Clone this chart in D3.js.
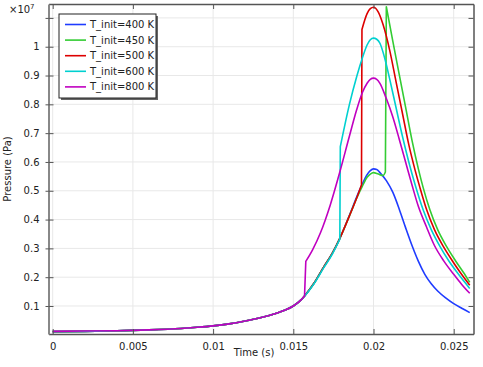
<!DOCTYPE html>
<html><head><meta charset="utf-8">
<script src="https://cdn.jsdelivr.net/npm/d3@7"></script>
<style>
body{margin:0;background:#fff;}
text{font-family:"DejaVu Sans",sans-serif;fill:#222;}
</style></head>
<body><svg id="c" width="483" height="367"></svg>
<script>
// ---- data (pressure in units of 1e7 Pa) ----
const seriesLabels = ["T_init=400 K","T_init=450 K","T_init=500 K","T_init=600 K","T_init=800 K"];
const seriesColors = ["#1f3cff","#33cc33","#dd0000","#00d0d0","#c000c0"];

const t400 = [0,0.002,0.004,0.006,0.008,0.009,0.010,0.011,0.012,0.013,0.014,0.0145,0.015,0.0155,0.0157,0.0163,0.0169,0.0174,0.0179,0.0185,0.019,0.0193,0.0196,0.0198,0.020,0.0202,0.0204,0.0208,0.0212,0.0216,0.022,0.0224,0.0228,0.0232,0.0236,0.024,0.0245,0.025,0.0255,0.026];
const p400 = [0.011,0.012,0.014,0.017,0.022,0.026,0.031,0.038,0.048,0.060,0.076,0.086,0.100,0.122,0.135,0.180,0.236,0.280,0.335,0.415,0.485,0.523,0.556,0.570,0.576,0.574,0.563,0.535,0.495,0.437,0.372,0.310,0.255,0.210,0.177,0.152,0.128,0.108,0.092,0.077];

const t450 = [0,0.002,0.004,0.006,0.008,0.009,0.010,0.011,0.012,0.013,0.014,0.0145,0.015,0.0155,0.0157,0.0163,0.0169,0.0174,0.0179,0.0185,0.019,0.0193,0.0196,0.0198,0.020,0.0203,0.0206,0.02074,0.0208,0.0212,0.0216,0.022,0.0224,0.0228,0.0231,0.02352,0.024,0.02456,0.0251,0.0256,0.026];
const p450 = [0.011,0.012,0.014,0.017,0.022,0.026,0.031,0.038,0.048,0.060,0.076,0.086,0.100,0.122,0.135,0.180,0.236,0.280,0.335,0.413,0.480,0.515,0.547,0.558,0.563,0.558,0.553,0.565,1.139,1.020,0.905,0.790,0.675,0.575,0.510,0.433,0.365,0.306,0.258,0.217,0.182];

const t500 = [0,0.002,0.004,0.006,0.008,0.009,0.010,0.011,0.012,0.013,0.014,0.0145,0.015,0.0155,0.0157,0.0163,0.0169,0.0174,0.0179,0.0185,0.019,0.01925,0.01928,0.0196,0.0198,0.020,0.0203,0.0206,0.021,0.0214,0.0218,0.0222,0.0226,0.0229,0.02332,0.0238,0.02436,0.0249,0.0254,0.026];
const p500 = [0.011,0.012,0.014,0.017,0.022,0.026,0.031,0.038,0.048,0.060,0.076,0.086,0.100,0.122,0.135,0.180,0.236,0.280,0.335,0.413,0.482,0.520,1.060,1.115,1.132,1.137,1.120,1.076,0.990,0.880,0.770,0.660,0.570,0.510,0.433,0.365,0.306,0.258,0.217,0.172];

const t600 = [0,0.002,0.004,0.006,0.008,0.009,0.010,0.011,0.012,0.013,0.014,0.0145,0.015,0.0155,0.0157,0.0163,0.0169,0.0174,0.0179,0.01793,0.0185,0.01895,0.0193,0.0196,0.0198,0.020,0.0202,0.0204,0.0207,0.021,0.0214,0.0218,0.0222,0.0226,0.0231,0.0236,0.02415,0.0247,0.0253,0.026];
const p600 = [0.011,0.012,0.014,0.017,0.022,0.026,0.031,0.038,0.048,0.060,0.076,0.086,0.100,0.122,0.134,0.178,0.233,0.277,0.332,0.653,0.800,0.896,0.960,1.006,1.024,1.030,1.026,1.012,0.960,0.890,0.790,0.690,0.600,0.520,0.433,0.365,0.306,0.256,0.210,0.161];

const t800 = [0,0.002,0.004,0.006,0.008,0.009,0.010,0.011,0.012,0.013,0.014,0.0145,0.015,0.0155,0.0157,0.01578,0.0162,0.0167,0.0173,0.0179,0.0185,0.01895,0.0193,0.0196,0.0198,0.020,0.0202,0.0204,0.0208,0.0212,0.0216,0.022,0.0224,0.0228,0.0233,0.0238,0.0244,0.025,0.0255,0.026];
const p800 = [0.012,0.013,0.014,0.017,0.022,0.026,0.031,0.038,0.048,0.060,0.076,0.086,0.100,0.122,0.135,0.255,0.295,0.355,0.450,0.565,0.690,0.781,0.840,0.873,0.887,0.891,0.887,0.873,0.820,0.757,0.680,0.600,0.520,0.445,0.375,0.310,0.255,0.210,0.175,0.144];

const xTicks = [0,0.005,0.01,0.015,0.02,0.025];
const xTickLabels = ["0","0.005","0.01","0.015","0.02","0.025"];
const yTicks = [0.1,0.2,0.3,0.4,0.5,0.6,0.7,0.8,0.9,1.0,1.1];
const yTickLabels = ["0.1","0.2","0.3","0.4","0.5","0.6","0.7","0.8","0.9","1",""];

// ---- chart ----
const svg = d3.select("#c");
const L = 48.5, R = 473.5, T = 4, B = 334;
const x = d3.scaleLinear().domain([-0.000262, 0.026234]).range([L, R]);
const y = d3.scaleLinear().domain([0.0028, 1.1483]).range([B, T]);

// grid
const grid = svg.append("g");
grid.selectAll("line.gx").data(xTicks).enter().append("line")
  .attr("x1", d => x(d)).attr("x2", d => x(d)).attr("y1", T).attr("y2", B)
  .attr("stroke", "#e8e8e8").attr("stroke-width", 1);
grid.selectAll("line.gy").data(yTicks).enter().append("line")
  .attr("y1", d => y(d)).attr("y2", d => y(d)).attr("x1", L).attr("x2", R)
  .attr("stroke", "#e8e8e8").attr("stroke-width", 1);

// lines: smooth pieces, joined by straight segments at the ignition jumps
const allT = [t400, t450, t500, t600, t800];
const allP = [p400, p450, p500, p600, p800];
svg.append("clipPath").attr("id", "clp").append("rect")
  .attr("x", L).attr("y", T).attr("width", R - L).attr("height", B - T);
const lineGen = d3.line().x(d => x(d[0])).y(d => y(d[1])).curve(d3.curveMonotoneX);
const lg = svg.append("g").attr("clip-path", "url(#clp)");
allT.forEach((ts, i) => {
  const pts = ts.map((t, k) => [t, allP[i][k]]);
  const pieces = [[pts[0]]];
  for (let k = 1; k < pts.length; k++) {
    const slope = Math.abs((pts[k][1] - pts[k-1][1]) / (pts[k][0] - pts[k-1][0]));
    if (slope > 1000) pieces.push([pts[k]]);
    else pieces[pieces.length - 1].push(pts[k]);
  }
  let d = "";
  pieces.forEach((pc, j) => {
    const s = pc.length > 1 ? lineGen(pc) : `M${x(pc[0][0])},${y(pc[0][1])}`;
    d += j === 0 ? s : "L" + s.slice(1);
  });
  lg.append("path").attr("d", d).attr("fill", "none")
    .attr("stroke", seriesColors[i]).attr("stroke-width", 1.6)
    .attr("stroke-linejoin", "round");
});

// axes (frame with inward ticks)
const axCol = "#555";
const axB = svg.append("g").attr("transform", `translate(0,${B})`)
  .call(d3.axisBottom(x).tickValues(xTicks).tickFormat((d, i) => xTickLabels[i]).tickSizeInner(-5).tickSizeOuter(0).tickPadding(9));
const axT = svg.append("g").attr("transform", `translate(0,${T})`)
  .call(d3.axisTop(x).tickValues(xTicks).tickFormat("").tickSizeInner(-5).tickSizeOuter(0));
const axL = svg.append("g").attr("transform", `translate(${L},0)`)
  .call(d3.axisLeft(y).tickValues(yTicks).tickFormat((d, i) => yTickLabels[i]).tickSizeInner(-5).tickSizeOuter(0).tickPadding(9));
const axR = svg.append("g").attr("transform", `translate(${R},0)`)
  .call(d3.axisRight(y).tickValues(yTicks).tickFormat("").tickSizeInner(-5).tickSizeOuter(0));
[axB, axT, axL, axR].forEach(g => {
  g.select(".domain").attr("stroke", axCol).attr("stroke-width", 1.5);
  g.selectAll(".tick line").attr("stroke", axCol).attr("stroke-width", 1);
  g.selectAll(".tick text").attr("font-size", 10).attr("fill", "#222")
   .attr("font-family", "DejaVu Sans, sans-serif");
});
axL.select(".domain").attr("stroke", "#888").attr("stroke-width", 2);
axL.selectAll(".tick").append("line").attr("x1", -3).attr("x2", 0).attr("stroke", axCol);

// axis titles
svg.append("text").attr("x", (L + R) / 2 - 7).attr("y", 356).attr("text-anchor", "middle")
  .attr("font-size", 10).text("Time (s)");
svg.append("text").attr("transform", `translate(11,${(T + B) / 2}) rotate(-90)`)
  .attr("text-anchor", "middle").attr("font-size", 10).text("Pressure (Pa)");
const ex = svg.append("text").attr("x", 9).attr("y", 13).attr("font-size", 10);
ex.append("tspan").text("\u00d710");
ex.append("tspan").attr("dy", -4).attr("font-size", 7).text("7");

// legend
const lx = 59, ly = 14, lw = 97, lh = 84;
svg.append("rect").attr("x", lx + 2).attr("y", ly + 2).attr("width", lw).attr("height", lh).attr("fill", "#666");
svg.append("rect").attr("x", lx).attr("y", ly).attr("width", lw).attr("height", lh)
  .attr("fill", "#fff").attr("stroke", "#222").attr("stroke-width", 1);
seriesLabels.forEach((s, i) => {
  const yy = ly + 10.5 + i * 15.6;
  svg.append("line").attr("x1", lx + 6).attr("x2", lx + 27).attr("y1", yy).attr("y2", yy)
    .attr("stroke", seriesColors[i]).attr("stroke-width", 1.6);
  svg.append("text").attr("x", lx + 31).attr("y", yy + 3.5).attr("font-size", 10).text(s);
});
</script></body></html>
